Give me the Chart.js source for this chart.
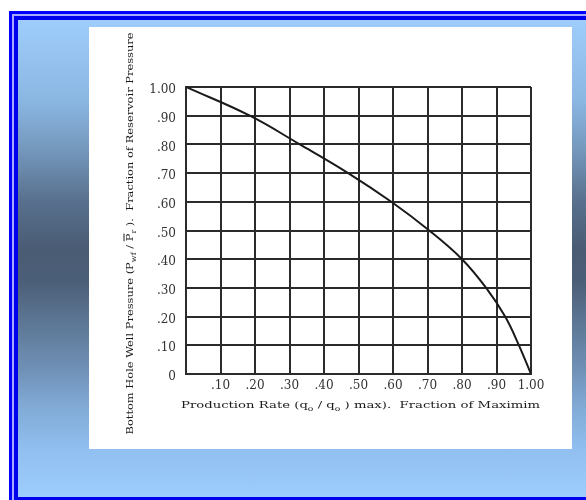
<!DOCTYPE html>
<html>
<head>
<meta charset="utf-8">
<script src="https://cdn.jsdelivr.net/npm/chart.js@4"></script>
<style>
  html, body { margin: 0; padding: 0; background: #fff; width: 586px; height: 500px; overflow: hidden; }
  #frame {
    position: absolute; left: 9px; top: 11px; width: 600px; height: 495px;
    border: 3px solid #0000ff; padding: 2px; background: #a8a8ff; box-sizing: border-box;
  }
  #inner {
    width: 100%; height: 100%; border: 4px solid #0000ee; box-sizing: border-box;
    background: linear-gradient(to bottom,
      #9fcdfb 0%, #8ab6e2 17%, #7598bd 27%, #58708d 38%,
      #4a5c74 48%, #4c5f78 55%, #5a7390 62%, #6f90b5 73%,
      #7fa7d2 80%, #90bff0 90%, #9dcdfd 100%);
  }
  #panel { position: absolute; left: 89px; top: 27px; width: 483px; height: 422px; background: #fff; }
</style>
</head>
<body>
<div id="frame"><div id="inner"></div></div>
<div id="panel"><canvas id="ipr"></canvas></div>
<script>
// ── DATA ───────────────────────────────────────────────────────
// Production rate (q/qmax) at each pressure step
const RATE     = [0, 0.185, 0.33, 0.47, 0.595, 0.705, 0.80, 0.87, 0.925, 0.965, 1.00];
const PRESSURE = [1.00, 0.90, 0.80, 0.70, 0.60, 0.50, 0.40, 0.30, 0.20, 0.10, 0];

const X_TICK_LABELS = ['', '.10', '.20', '.30', '.40', '.50', '.60', '.70', '.80', '.90', '1.00'];
const Y_TICK_LABELS = ['0', '.10', '.20', '.30', '.40', '.50', '.60', '.70', '.80', '.90', '1.00'];

// axis titles, split in runs so subscripts / overbar can be drawn
const X_TITLE = [
  { t: 'Production Rate (q' }, { t: 'o', sub: true }, { t: ' / q' }, { t: 'o', sub: true },
  { t: ' ) max).  Fraction of Maximim' },
];
const Y_TITLE = [
  { t: 'Bottom Hole Well Pressure (P' }, { t: 'wf', sub: true }, { t: ' / ' },
  { t: 'P', bar: true }, { t: 'r', sub: true }, { t: ' ).  Fraction of Reservoir Pressure' },
];

// ── STYLE ──────────────────────────────────────────────────────
const INK       = '#1a1a1a';
const GRID_INK  = '#2b2b2b';
const SERIF     = '"DejaVu Serif", "Liberation Serif", serif';
const TICK_FONT = { family: SERIF, size: 12 };

// draws a run list centred on (0, 0) baseline, squeezed to `width`
function drawRuns(ctx, runs, size, width) {
  const fontFor = r => (r.sub ? Math.round(size * 0.72) : size) + 'px ' + SERIF;
  let total = 0;
  const widths = runs.map(r => { ctx.font = fontFor(r); const w = ctx.measureText(r.t).width; total += w; return w; });
  ctx.save();
  ctx.scale(width / total, 1);
  let x = -total / 2;
  runs.forEach((r, i) => {
    ctx.font = fontFor(r);
    ctx.fillText(r.t, x, r.sub ? 3 : 0);
    if (r.bar) {
      ctx.fillRect(x, -size * 0.95, widths[i], 1);
    }
    x += widths[i];
  });
  ctx.restore();
}

const axisTitles = {
  id: 'axisTitles',
  afterDraw(chart) {
    const { ctx, chartArea: a } = chart;
    ctx.save();
    ctx.fillStyle = INK;
    ctx.textBaseline = 'alphabetic';
    // x title
    ctx.save();
    ctx.translate((a.left + a.right) / 2 + 2, a.bottom + 34);
    drawRuns(ctx, X_TITLE, 10, 359);
    ctx.restore();
    // y title, rotated
    ctx.save();
    ctx.translate(a.left - 53, (a.top + a.bottom) / 2 + 3);
    ctx.rotate(-Math.PI / 2);
    drawRuns(ctx, Y_TITLE, 10, 402);
    ctx.restore();
    ctx.restore();
  },
};

const ctx = document.getElementById('ipr').getContext('2d');
new Chart(ctx, {
  type: 'scatter',
  data: {
    datasets: [{
      data: RATE.map((q, i) => ({ x: q, y: PRESSURE[i] })),
      showLine: true,
      borderColor: INK,
      borderWidth: 2,
      pointRadius: 0,
      tension: 0.4,
    }],
  },
  options: {
    responsive: true,
    maintainAspectRatio: false,
    animation: false,
    layout: { padding: { left: 0, top: 60, right: 41, bottom: 0 } },
    plugins: { legend: { display: false }, tooltip: { enabled: false } },
    scales: {
      x: {
        type: 'linear', min: 0, max: 1,
        afterFit: s => { s.height = 75; },
        ticks: { stepSize: 0.1, padding: 5, color: '#333', font: TICK_FONT, maxRotation: 0,
                 callback: (v, i) => X_TICK_LABELS[i] },
        grid: { color: GRID_INK, lineWidth: 2, drawTicks: false },
        border: { color: GRID_INK, width: 2 },
      },
      y: {
        type: 'linear', min: 0, max: 1,
        afterFit: s => { s.width = 97; },
        ticks: { stepSize: 0.1, padding: 10, labelOffset: 3, color: '#333', font: TICK_FONT,
                 callback: (v, i) => Y_TICK_LABELS[i] },
        grid: { color: GRID_INK, lineWidth: 2, drawTicks: false },
        border: { color: GRID_INK, width: 2 },
      },
    },
  },
  plugins: [axisTitles],
});
</script>
</body>
</html>
